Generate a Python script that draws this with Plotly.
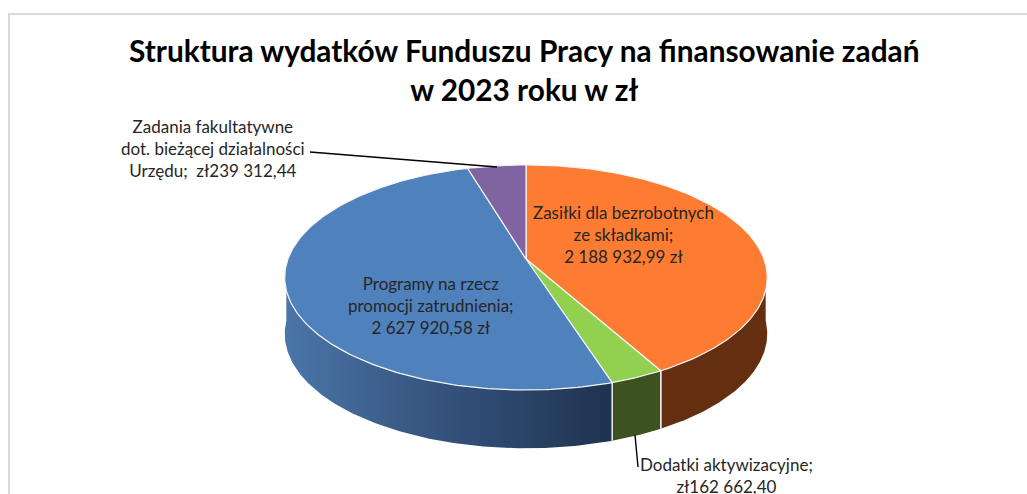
import numpy as np
import plotly.graph_objects as go

categories = ["Zasiłki dla bezrobotnych ze składkami", "Dodatki aktywizacyjne",
              "Programy na rzecz promocji zatrudnienia",
              "Zadania fakultatywne dot. bieżącej działalności Urzędu"]
values = [2188932.99, 162662.40, 2627920.58, 239312.44]
top_colors = ["#FE7C31", "#92D050", "#4F81BD", "#8064A2"]
side_colors = ["#642F10", "#3C5220", "#2F4B70", "#4C3C61"]
labels = ["Zasiłki dla bezrobotnych<br>ze składkami;<br>2 188 932,99 zł",
          "Dodatki aktywizacyjne;<br>zł162 662,40",
          "Programy na rzecz<br>promocji zatrudnienia;<br>2 627 920,58 zł",
          "Zadania fakultatywne<br>dot. bieżącej działalności<br>Urzędu;  zł239 312,44"]
label_pos = [(623, 234), (726, 475), (431, 305), (213, 148)]

CX, CY, A, B, P, DEPTH = 526, 259, 238, 109.5, 0.164, 56


def project(angle, drop=0.0):
    u, v = np.sin(angle), np.cos(angle)
    w = 1 + P * v
    return CX + A * u / w, CY - B * v / w + drop * (1 - 0.04 * v)


fractions = np.array(values) / sum(values)
edges = np.concatenate([[0], np.cumsum(fractions)]) * 2 * np.pi

fig = go.Figure()

# side walls: only the part of the rim facing the viewer
for i in range(4):
    a0, a1 = edges[i], edges[i + 1]
    a0v, a1v = max(a0, np.pi / 2 + 0.05), min(a1, 3 * np.pi / 2 - 0.05)
    if a1v <= a0v:
        continue
    t = np.linspace(a0v, a1v, 120)
    x1, y1 = project(t)
    x2, y2 = project(t[::-1], DEPTH)
    extra = {}
    if i == 2:
        extra = dict(fillgradient=dict(type="horizontal",
                                       colorscale=[[0, "#4A76A8"], [0.45, "#36547F"], [1, "#1F3350"]]))
    fig.add_trace(go.Scatter(x=np.r_[x1, x2, x1[0]], y=np.r_[y1, y2, y1[0]], mode="lines",
                             fill="toself", fillcolor=side_colors[i],
                             line=dict(color="rgba(255,255,255,0)", width=0),
                             hoverinfo="skip", showlegend=False, **extra))
    for end in (a0, a1):
        if np.pi / 2 < end < 3 * np.pi / 2:
            xe0, ye0 = project(end)
            xe1, ye1 = project(end, DEPTH)
            fig.add_trace(go.Scatter(x=[xe0, xe1], y=[ye0, ye1], mode="lines",
                                     line=dict(color="#E6E6E6", width=1.5),
                                     hoverinfo="skip", showlegend=False))

# top faces
for i in range(4):
    t = np.linspace(edges[i], edges[i + 1], 200)
    x, y = project(t)
    fig.add_trace(go.Scatter(x=np.r_[CX, x, CX], y=np.r_[CY, y, CY], mode="lines",
                             fill="toself", fillcolor=top_colors[i],
                             line=dict(color="#F4F4F4", width=1.2),
                             name=categories[i], text=labels[i], hoverinfo="text", showlegend=False))

for text, (lx, ly) in zip(labels, label_pos):
    fig.add_annotation(x=lx, y=ly, text=text, showarrow=False, xanchor="center", yanchor="middle",
                       font=dict(family="Lato", size=17, color="#262626"))

fig.update_layout(
    width=1027, height=494, margin=dict(l=0, r=0, t=0, b=0),
    paper_bgcolor="white", plot_bgcolor="white", autosize=False,
    title=dict(text="<b>Struktura wydatków Funduszu Pracy na finansowanie zadań<br>w 2023 roku w zł</b>",
               x=0.5105, xanchor="center", y=0.8735, yanchor="middle",
               font=dict(family="Lato", size=29.8, color="#000000")),
    xaxis=dict(range=[0, 1027], visible=False, fixedrange=True),
    yaxis=dict(range=[494, 0], visible=False, fixedrange=True),
    shapes=[
        dict(type="rect", x0=9, y0=14, x1=1060, y1=520, line=dict(color="#D9D9D9", width=2), layer="below"),
        dict(type="line", x0=310, y0=152, x1=497, y1=167, line=dict(color="black", width=1.6)),
        dict(type="line", x0=635, y0=435, x1=638, y1=467, line=dict(color="black", width=1.4)),
    ],
)
fig.write_html("out.html", config=dict(displayModeBar=False),
               post_script="document.body.style.margin='0';document.body.style.overflow='hidden';")
